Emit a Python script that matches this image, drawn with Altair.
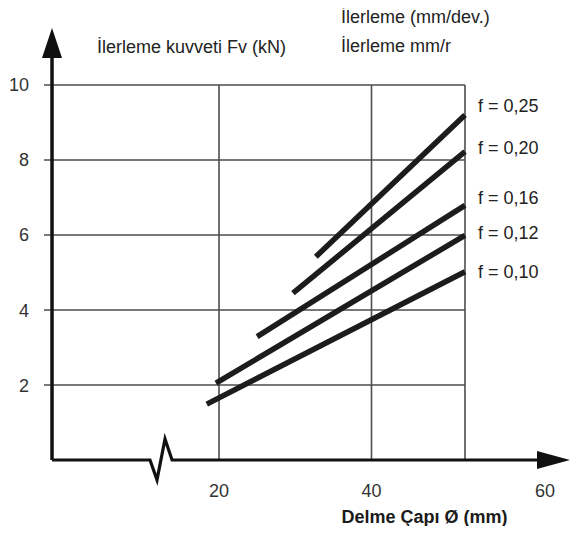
import altair as alt
import pandas as pd

# ---- data ----
series = ["f = 0,25", "f = 0,20", "f = 0,16", "f = 0,12", "f = 0,10"]
x_start = [32.7, 29.7, 25.0, 19.6, 18.4]
y_start = [5.42, 4.45, 3.29, 2.05, 1.49]
x_end = [52.26, 52.26, 52.26, 52.26, 52.26]
y_end = [9.20, 8.22, 6.79, 5.99, 5.02]
label_y = [9.29, 8.16, 6.83, 5.89, 4.85]

y_ticks = [2, 4, 6, 8, 10]
x_tick_labels = ["20", "40", "60"]
x_tick_pos = [20, 40, 62.75]          # the reference places "60" off-scale
grid_x = [20, 40, 52.26]

# axis path with break symbol (data units)
axis_x = [-1.9, 10.95, 11.87, 12.92, 13.84, 62.0]
axis_y = [0, 0, -0.53, 0.56, 0, 0]

titles = ["İlerleme kuvveti Fv (kN)", "İlerleme (mm/dev.)", "İlerleme mm/r"]
title_x = [4.0, 36.0, 36.0]
title_y = [10.85, 11.64, 10.88]

FONT = "Liberation Sans"
XS = alt.Scale(domain=[-3.4754, 64.7213], nice=False, zero=False)
YS = alt.Scale(domain=[-0.5333, 11.7333], nice=False, zero=False)

rows = []
for s, xa, ya, xb, yb in zip(series, x_start, y_start, x_end, y_end):
    rows.append({"s": s, "x": xa, "y": ya, "o": 0})
    rows.append({"s": s, "x": xb, "y": yb, "o": 1})
lines_df = pd.DataFrame(rows)

grid_h = alt.Chart(pd.DataFrame({"v": y_ticks})).mark_rule(color="#4d4d4d", strokeWidth=1.6).encode(
    x=alt.XDatum(-2.95, scale=XS, axis=None),
    x2=alt.X2Datum(52.26),
    y=alt.Y("v:Q", scale=YS, axis=None),
)
grid_v = alt.Chart(pd.DataFrame({"v": grid_x})).mark_rule(color="#4d4d4d", strokeWidth=1.6).encode(
    x=alt.X("v:Q", scale=XS, axis=None),
    y=alt.YDatum(0, scale=YS, axis=None),
    y2=alt.Y2Datum(10),
)

lines = alt.Chart(lines_df).mark_line(color="#1c1c1c", strokeWidth=5.5, strokeCap="butt").encode(
    x=alt.X("x:Q", scale=XS, axis=None),
    y=alt.Y("y:Q", scale=YS, axis=None),
    detail="s:N",
    order="o:Q",
)

y_axis = alt.Chart(pd.DataFrame({"v": [0]})).mark_rule(color="#111111", strokeWidth=3.5).encode(
    x=alt.XDatum(-1.9, scale=XS, axis=None),
    y=alt.YDatum(0, scale=YS, axis=None),
    y2=alt.Y2Datum(10.9),
)
x_axis = alt.Chart(pd.DataFrame({"x": axis_x, "y": axis_y, "i": list(range(len(axis_x)))})).mark_line(
    color="#111111", strokeWidth=3.2, strokeJoin="miter"
).encode(
    x=alt.X("x:Q", scale=XS, axis=None),
    y=alt.Y("y:Q", scale=YS, axis=None),
    order="i:Q",
)

y_arrow = alt.Chart(pd.DataFrame({"v": [0]})).mark_point(
    shape="M-0.667,1L0.667,1L0,-1Z", size=900, filled=True, color="#111111", opacity=1
).encode(
    x=alt.XDatum(-1.9, scale=XS, axis=None),
    y=alt.YDatum(11.12, scale=YS, axis=None),
)
x_arrow = alt.Chart(pd.DataFrame({"v": [0]})).mark_point(
    shape="M-1,-0.55L1,0L-1,0.55Z", size=1089, filled=True, color="#111111", opacity=1
).encode(
    x=alt.XDatum(63.87, scale=XS, axis=None),
    y=alt.YDatum(0, scale=YS, axis=None),
)

y_labels = alt.Chart(pd.DataFrame({"v": y_ticks})).mark_text(
    font=FONT, fontSize=18, color="#333333", align="right", baseline="alphabetic", dy=6.5
).encode(
    x=alt.XDatum(-4.92, scale=XS, axis=None),
    y=alt.Y("v:Q", scale=YS, axis=None),
    text="v:Q",
)
x_labels = alt.Chart(pd.DataFrame({"t": x_tick_labels, "p": x_tick_pos})).mark_text(
    font=FONT, fontSize=18, color="#333333", align="center", baseline="alphabetic"
).encode(
    x=alt.X("p:Q", scale=XS, axis=None),
    y=alt.YDatum(-0.98, scale=YS, axis=None),
    text="t:N",
)
x_title = alt.Chart(pd.DataFrame({"t": ["Delme Çapı Ø (mm)"]})).mark_text(
    font=FONT, fontSize=18, fontWeight="bold", color="#1a1a1a", align="center", baseline="alphabetic"
).encode(
    x=alt.XDatum(46.95, scale=XS, axis=None),
    y=alt.YDatum(-1.68, scale=YS, axis=None),
    text="t:N",
)
top_titles = alt.Chart(pd.DataFrame({"t": titles, "x": title_x, "y": title_y})).mark_text(
    font=FONT, fontSize=18, color="#222222", align="left", baseline="alphabetic"
).encode(
    x=alt.X("x:Q", scale=XS, axis=None),
    y=alt.Y("y:Q", scale=YS, axis=None),
    text="t:N",
)
f_labels = alt.Chart(pd.DataFrame({"t": series, "y": label_y})).mark_text(
    font=FONT, fontSize=18, color="#222222", align="left", baseline="alphabetic"
).encode(
    x=alt.XDatum(53.97, scale=XS, axis=None),
    y=alt.Y("y:Q", scale=YS, axis=None),
    text="t:N",
)

chart = alt.layer(
    grid_h, grid_v, lines, y_axis, x_axis, y_arrow, x_arrow,
    y_labels, x_labels, x_title, top_titles, f_labels,
).properties(
    width=520, height=460,
    padding={"left": 32, "top": 12, "right": 10, "bottom": 46},
    autosize=alt.AutoSizeParams(type="none"),
    background="white",
).configure_view(stroke=None)

chart.save("out.html", embed_options={"renderer": "svg", "actions": False})
